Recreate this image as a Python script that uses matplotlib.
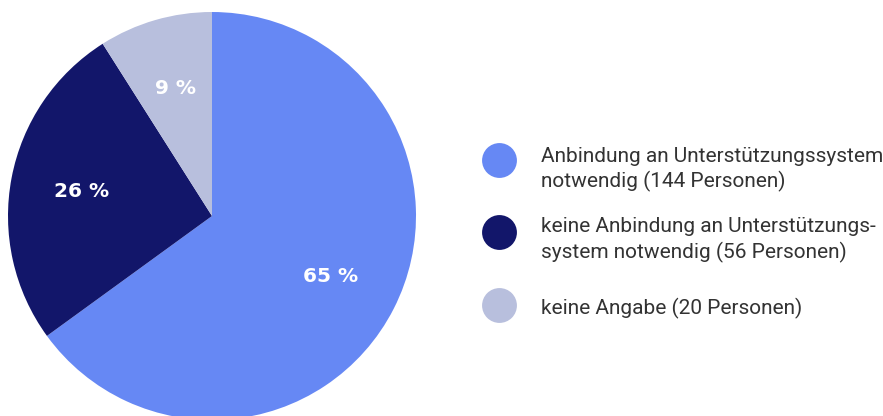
import matplotlib
matplotlib.use("Agg")
import matplotlib.pyplot as plt
from matplotlib import font_manager

# ---- data ----
shares = [65, 26, 9]
persons = [144, 56, 20]
legend_lines = [
    ["Anbindung an Unterstützungssystem", "notwendig (144 Personen)"],
    ["keine Anbindung an Unterstützungs-", "system notwendig (56 Personen)"],
    ["keine Angabe (20 Personen)"],
]
colors = ["#6688F4", "#12166A", "#B8BFDD"]

W, H = 883, 416
fig = plt.figure(figsize=(W / 100, H / 100), dpi=100)
fig.patch.set_facecolor("white")

# pie axes: center (212, 216) px, radius ~204 px
cx, cy, r = 212, 216, 204
ax = fig.add_axes([(cx - r) / W, (H - cy - r) / H, 2 * r / W, 2 * r / H])
wedges, texts, autotexts = ax.pie(
    shares, colors=colors, startangle=90, counterclock=False,
    autopct=lambda p: f"{p:.0f} %", pctdistance=0.65,
    wedgeprops=dict(linewidth=0),
    textprops=dict(color="white", fontsize=14.5, fontweight="bold",
                   family="DejaVu Sans"),
)
for w in wedges:
    w.set_clip_on(False)
ax.set_xlim(-1, 1)
ax.set_ylim(-1, 1)
ax.set_aspect("equal")
ax.axis("off")

# legend overlay in pixel coordinates
lg = fig.add_axes([0, 0, 1, 1])
lg.set_xlim(0, W)
lg.set_ylim(H, 0)
lg.axis("off")
lg.patch.set_alpha(0)

names = {f.name for f in font_manager.fontManager.ttflist}
fam = "Liberation Sans Narrow" if "Liberation Sans Narrow" in names else "Roboto"
fsize = 17 if fam == "Liberation Sans Narrow" else 15

circle_y = [160, 232, 305]
baselines = [[162, 187], [232, 258], [314]]
for i, lines in enumerate(legend_lines):
    lg.scatter([499], [circle_y[i]], s=630, color=colors[i], linewidths=0)
    for line, yb in zip(lines, baselines[i]):
        lg.text(541, yb, line, ha="left", va="baseline", fontsize=fsize,
                family=fam, color="#333333")

fig.savefig("out.png", dpi=100)
